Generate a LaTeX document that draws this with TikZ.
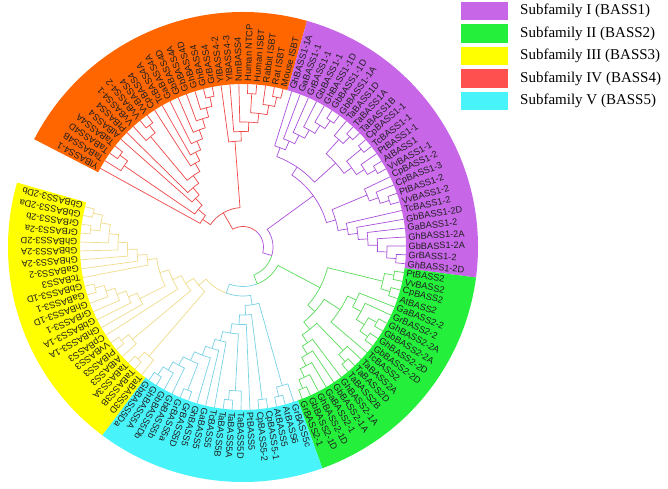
\documentclass[tikz,border=0pt]{standalone}
\usepackage{fontspec}
\setmainfont{Liberation Sans}
\newfontfamily\legfont{Liberation Serif}
\definecolor{bandO}{RGB}{255,102,0}
\definecolor{bandP}{RGB}{200,102,232}
\definecolor{bandG}{RGB}{36,240,60}
\definecolor{bandY}{RGB}{255,255,0}
\definecolor{bandC}{RGB}{72,244,250}
\definecolor{legR}{RGB}{255,80,80}
\definecolor{brO}{RGB}{240,70,70}
\definecolor{brP}{RGB}{170,80,220}
\definecolor{brG}{RGB}{90,220,90}
\definecolor{brC}{RGB}{120,210,230}
\definecolor{brY}{RGB}{240,220,140}
\def\tzdr{9.5}
\def\tzrl{163}
\newcommand\tzget[2]{\csname tz#1@#2\endcsname}
\newcommand\tzset[5]{%
  \expandafter\xdef\csname tzA@#1\endcsname{#2}%
  \expandafter\xdef\csname tzR@#1\endcsname{#3}%
  \expandafter\xdef\csname tzH@#1\endcsname{#4}%
  \expandafter\xdef\csname tzC@#1\endcsname{#5}}
\newcommand\tleaf[3]{%
  \pgfmathsetmacro\tzang{151.13-#1*3.1405}%
  \tzset{#1}{\tzang}{\tzrl}{0}{#2}%
  \node[leaflab, rotate=\tzang] (L#1) at (\tzang:165.5pt) {#3};}
\newcommand\tclade[3]{%
  \edef\tza{\tzget{A}{#2}}\edef\tzb{\tzget{A}{#3}}%
  \edef\tzra{\tzget{R}{#2}}\edef\tzrb{\tzget{R}{#3}}%
  \edef\tzca{\tzget{C}{#2}}\edef\tzcb{\tzget{C}{#3}}%
  \pgfmathsetmacro\tzam{(\tza+\tzb)/2}%
  \pgfmathtruncatemacro\tzhm{max(\tzget{H}{#2},\tzget{H}{#3})+1}%
  \pgfmathsetmacro\tzrm{\tzrl-\tzhm*\tzdr}%
  \ifx\tzca\tzcb\edef\tzcm{\tzca}\else\edef\tzcm{\tzmix}\fi
  \tzset{#1}{\tzam}{\tzrm}{\tzhm}{\tzcm}%
  \draw[branch, draw=\tzca] (\tza:\tzra pt) -- (\tza:\tzrm pt) arc[start angle=\tza, end angle=\tzam, radius=\tzrm pt];
  \draw[branch, draw=\tzcb] (\tzb:\tzrb pt) -- (\tzb:\tzrm pt) arc[start angle=\tzb, end angle=\tzam, radius=\tzrm pt];}
\newcommand\tband[3]{%
  \fill[#1] (#2:163pt) arc[start angle=#2, end angle=#3, radius=163pt] -- (#3:235pt) arc[start angle=#3, end angle=#2, radius=235pt] -- cycle;}
\def\tzmix{brO}
\begin{document}
\begin{tikzpicture}[x=1pt,y=-1pt,
  leaflab/.style={anchor=west, inner sep=0pt, text=black!88, font=\fontsize{9.2}{10}\selectfont},
  branch/.style={line width=0.7pt},
  legbox/.style={minimum width=47pt, minimum height=18.5pt, inner sep=0pt, draw=none},
  legtext/.style={anchor=west, inner sep=0pt, font=\legfont\fontsize{15}{17}\selectfont}]
\useasboundingbox (0,0) rectangle (668,488);
\fill[white] (0,0) rectangle (668,488);
\begin{scope}[shift={(243,247)}]
\tband{bandO}{152.7}{74.19}
\tband{bandP}{74.19}{-7.47}
\tband{bandG}{-7.47}{-70.28}
\tband{bandC}{-70.28}{-126.8}
\tband{bandY}{-126.8}{-195.92}
% leaves BASS4 / transporters
\tleaf{0}{brO}{YlBASS4-1}
\tleaf{1}{brO}{TaBASS4B}
\tleaf{2}{brO}{TaBASS4D}
\tleaf{3}{brO}{TaBASS4A}
\tleaf{4}{brO}{AtBASS4}
\tleaf{5}{brO}{PtBASS4}
\tleaf{6}{brO}{VvBASS4-1}
\tleaf{7}{brO}{VvBASS4-2}
\tleaf{8}{brO}{VvBASS4}
\tleaf{9}{brO}{CpBASS4}
\tleaf{10}{brO}{TcBASS4A}
\tleaf{11}{brO}{GaBASS4A}
\tleaf{12}{brO}{GbBASS4D}
\tleaf{13}{brO}{GbBASS4A}
\tleaf{14}{brO}{GhBASS4D}
\tleaf{15}{brO}{GhBASS4}
\tleaf{16}{brO}{GrBASS4}
\tleaf{17}{brO}{YlBASS4-2}
\tleaf{18}{brO}{YlBASS4-3}
\tleaf{19}{brO}{NmBASS4}
\tleaf{20}{brO}{Human NTCP}
\tleaf{21}{brO}{Human ISBT}
\tleaf{22}{brO}{Rabbit ISBT}
\tleaf{23}{brO}{Rat ISBT}
\tleaf{24}{brO}{Mouse ISBT}
% BASS1
\tleaf{25}{brP}{GhBASS1-1A}
\tleaf{26}{brP}{GaBASS1-1}
\tleaf{27}{brP}{GrBASS1-1}
\tleaf{28}{brP}{GbBASS1-1}
\tleaf{29}{brP}{GhBASS1-1D}
\tleaf{30}{brP}{GbBASS1-1D}
\tleaf{31}{brP}{GbBASS1-1A}
\tleaf{32}{brP}{TaBASS1D}
\tleaf{33}{brP}{TaBASS1A}
\tleaf{34}{brP}{TaBASS1B}
\tleaf{35}{brP}{CpBASS1-1}
\tleaf{36}{brP}{TcBASS1-1}
\tleaf{37}{brP}{PtBASS1-1}
\tleaf{38}{brP}{AtBASS1}
\tleaf{39}{brP}{VvBASS1-1}
\tleaf{40}{brP}{CpBASS1-2}
\tleaf{41}{brP}{CpBASS1-3}
\tleaf{42}{brP}{PtBASS1-2}
\tleaf{43}{brP}{VvBASS1-2}
\tleaf{44}{brP}{TcBASS1-2}
\tleaf{45}{brP}{GbBASS1-2D}
\tleaf{46}{brP}{GaBASS1-2}
\tleaf{47}{brP}{GhBASS1-2A}
\tleaf{48}{brP}{GbBASS1-2A}
\tleaf{49}{brP}{GrBASS1-2}
\tleaf{50}{brP}{GhBASS1-2D}
% BASS2
\tleaf{51}{brG}{PtBASS2}
\tleaf{52}{brG}{VvBASS2}
\tleaf{53}{brG}{CpBASS2}
\tleaf{54}{brG}{AtBASS2}
\tleaf{55}{brG}{GaBASS2-2}
\tleaf{56}{brG}{GrBASS2-2}
\tleaf{57}{brG}{GhBASS2-2A}
\tleaf{58}{brG}{GbBASS2-2A}
\tleaf{59}{brG}{GhBASS2-2D}
\tleaf{60}{brG}{GbBASS2-2D}
\tleaf{61}{brG}{TcBASS2}
\tleaf{62}{brG}{TaBASS2A}
\tleaf{63}{brG}{TaBASS2D}
\tleaf{64}{brG}{TaBASS2B}
\tleaf{65}{brG}{GhBASS2-1A}
\tleaf{66}{brG}{GbBASS2-1A}
\tleaf{67}{brG}{GaBASS2-1}
\tleaf{68}{brG}{GhBASS2-1D}
\tleaf{69}{brG}{GbBASS2-1D}
\tleaf{70}{brG}{GrBASS2-1}
% BASS5
\tleaf{71}{brC}{GrBASS5c}
\tleaf{72}{brC}{AtBASS6}
\tleaf{73}{brC}{AtBASS5}
\tleaf{74}{brC}{CpBASS5-1}
\tleaf{75}{brC}{CpBASS5-2}
\tleaf{76}{brC}{PtBASS5}
\tleaf{77}{brC}{TaBASS5D}
\tleaf{78}{brC}{TaBASS5A}
\tleaf{79}{brC}{TaBASS5B}
\tleaf{80}{brC}{TcBASS5}
\tleaf{81}{brC}{GaBASS5}
\tleaf{82}{brC}{GhBASS5}
\tleaf{83}{brC}{GrBASS5D}
\tleaf{84}{brC}{GrBASS5a}
\tleaf{85}{brC}{GbBASS5b}
\tleaf{86}{brC}{GbBASS5Db}
\tleaf{87}{brC}{GhBASS5A}
\tleaf{88}{brC}{GbBASS5Da}
% BASS3
\tleaf{89}{brY}{TaBASS3D}
\tleaf{90}{brY}{TaBASS3B}
\tleaf{91}{brY}{TaBASS3A}
\tleaf{92}{brY}{AtBASS3}
\tleaf{93}{brY}{PtBASS3}
\tleaf{94}{brY}{VvBASS3}
\tleaf{95}{brY}{CpBASS3}
\tleaf{96}{brY}{GhBASS3-1A}
\tleaf{97}{brY}{GbBASS3-1A}
\tleaf{98}{brY}{GrBASS3-1}
\tleaf{99}{brY}{GhBASS3-1D}
\tleaf{100}{brY}{GaBASS3-1}
\tleaf{101}{brY}{GbBASS3-1D}
\tleaf{102}{brY}{TcBASS3}
\tleaf{103}{brY}{GaBASS3-2}
\tleaf{104}{brY}{GhBASS3-2A}
\tleaf{105}{brY}{GbBASS3-2A}
\tleaf{106}{brY}{GhBASS3-2D}
\tleaf{107}{brY}{GrBASS3-2a}
\tleaf{108}{brY}{GrBASS3-2b}
\tleaf{109}{brY}{GbBASS3-2Da}
\tleaf{110}{brY}{GbBASS3-2Db}
% clades: BASS4
\tclade{o1}{15}{16}
\tclade{o2}{14}{o1}
\tclade{o3}{13}{o2}
\tclade{o4}{12}{o3}
\tclade{o5}{11}{o4}
\tclade{o6}{10}{o5}
\tclade{o7}{9}{o6}
\tclade{o8}{7}{8}
\tclade{o9}{6}{o8}
\tclade{o10}{o9}{o7}
\tclade{o11}{5}{o10}
\tclade{o12}{4}{o11}
\tclade{o13}{2}{3}
\tclade{o14}{1}{o13}
\tclade{o15}{o14}{o12}
\tclade{o16}{0}{o15}
\tclade{o17}{23}{24}
\tclade{o18}{22}{o17}
\tclade{o19}{20}{21}
\tclade{o20}{o19}{o18}
\tclade{o21}{19}{o20}
\tclade{o22}{18}{o21}
\tclade{o23}{17}{o22}
\tclade{O}{o16}{o23}
% BASS1
\tclade{p1}{30}{31}
\tclade{p2}{29}{p1}
\tclade{p3}{28}{p2}
\tclade{p4}{27}{p3}
\tclade{p5}{26}{p4}
\tclade{p6}{25}{p5}
\tclade{p7}{33}{34}
\tclade{p8}{32}{p7}
\tclade{p9}{35}{36}
\tclade{p10}{38}{39}
\tclade{p11}{37}{p10}
\tclade{p12}{p9}{p11}
\tclade{p13}{p8}{p12}
\tclade{p14}{p6}{p13}
\tclade{p15}{42}{43}
\tclade{p16}{41}{p15}
\tclade{p17}{40}{p16}
\tclade{p18}{49}{50}
\tclade{p19}{48}{p18}
\tclade{p20}{47}{p19}
\tclade{p21}{46}{p20}
\tclade{p22}{45}{p21}
\tclade{p23}{44}{p22}
\tclade{p24}{p17}{p23}
\tclade{P}{p14}{p24}
% BASS2
\tclade{g1}{51}{52}
\tclade{g2}{53}{54}
\tclade{g3}{g1}{g2}
\tclade{g4}{57}{58}
\tclade{g5}{59}{60}
\tclade{g6}{g4}{g5}
\tclade{g7}{56}{g6}
\tclade{g8}{55}{g7}
\tclade{g9}{g8}{61}
\tclade{g10}{63}{64}
\tclade{g11}{62}{g10}
\tclade{g12}{69}{70}
\tclade{g13}{68}{g12}
\tclade{g14}{67}{g13}
\tclade{g15}{66}{g14}
\tclade{g16}{65}{g15}
\tclade{g17}{g11}{g16}
\tclade{g18}{g9}{g17}
\tclade{G}{g3}{g18}
% BASS5
\tclade{c1}{72}{73}
\tclade{c2}{71}{c1}
\tclade{c3}{74}{75}
\tclade{c4}{78}{79}
\tclade{c5}{77}{c4}
\tclade{c6}{87}{88}
\tclade{c7}{86}{c6}
\tclade{c8}{85}{c7}
\tclade{c9}{83}{84}
\tclade{c10}{c9}{c8}
\tclade{c11}{82}{c10}
\tclade{c12}{81}{c11}
\tclade{c13}{80}{c12}
\tclade{c14}{c5}{c13}
\tclade{c15}{76}{c14}
\tclade{c16}{c3}{c15}
\tclade{C}{c2}{c16}
% BASS3
\tclade{y1}{90}{91}
\tclade{y2}{89}{y1}
\tclade{y3}{93}{94}
\tclade{y4}{92}{y3}
\tclade{y5}{100}{101}
\tclade{y6}{99}{y5}
\tclade{y7}{98}{y6}
\tclade{y8}{97}{y7}
\tclade{y9}{96}{y8}
\tclade{y10}{107}{108}
\tclade{y11}{109}{110}
\tclade{y12}{y10}{y11}
\tclade{y13}{106}{y12}
\tclade{y14}{105}{y13}
\tclade{y15}{104}{y14}
\tclade{y16}{103}{y15}
\tclade{y17}{102}{y16}
\tclade{y18}{y9}{y17}
\tclade{y19}{95}{y18}
\tclade{y20}{y4}{y19}
\tclade{Y}{y2}{y20}
% backbone
\def\tzmix{brC}\tclade{CY}{C}{Y}
\def\tzmix{brG}\tclade{GCY}{G}{CY}
\def\tzmix{brP}\tclade{PGCY}{P}{GCY}
\def\tzmix{brO}\tclade{root}{O}{PGCY}
\end{scope}
% legend
\node[legbox, fill=bandP] (k1) at (484.5,11) {};
\node[legbox, fill=bandG] (k2) at (484.5,33.5) {};
\node[legbox, fill=bandY] (k3) at (484.5,56) {};
\node[legbox, fill=legR]  (k4) at (484.5,78.5) {};
\node[legbox, fill=bandC] (k5) at (484.5,101) {};
\node[legtext] (t1) at (520,11) {Subfamily I (BASS1)};
\node[legtext] (t2) at (520,33.5) {Subfamily II (BASS2)};
\node[legtext] (t3) at (520,56) {Subfamily III (BASS3)};
\node[legtext] (t4) at (520,78.5) {Subfamily IV (BASS4)};
\node[legtext] (t5) at (520,101) {Subfamily V (BASS5)};
\end{tikzpicture}
\end{document}
